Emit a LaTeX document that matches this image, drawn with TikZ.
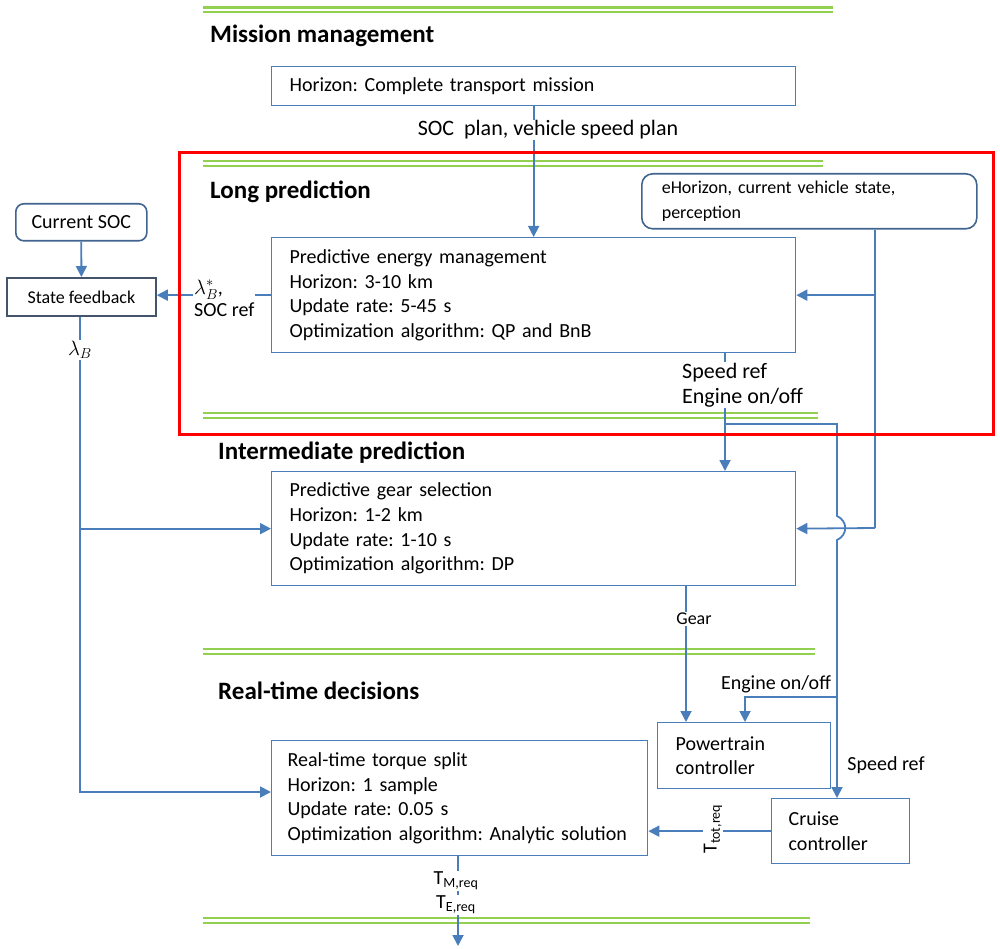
\documentclass[tikz,border=0pt]{standalone}
\usepackage{fontspec}
\setmainfont{Carlito}
\usetikzlibrary{arrows.meta}
\definecolor{boxblue}{HTML}{4A7EBB}
\definecolor{roundblue}{HTML}{41648F}
\definecolor{slateblue}{HTML}{44546A}
\definecolor{sepgreen}{HTML}{92D050}
\definecolor{framered}{HTML}{FF0000}
\newcommand{\bodyfont}{\fontsize{20}{24.7}\selectfont}
\newcommand{\headfont}{\fontsize{25}{28}\selectfont\bfseries}
\frenchspacing

\tikzset{
  layerbox/.style={draw=boxblue,line width=1.3pt,anchor=north west,
    align=left,inner xsep=18pt,inner ysep=2pt,font=\bodyfont},
  infobox/.style={draw=roundblue,line width=1.6pt,rounded corners=11pt,
    anchor=north west,align=left,inner xsep=20pt,inner ysep=2pt,font=\bodyfont},
  wire/.style={boxblue,line width=1.8pt},
  flow/.style={wire,-{Triangle[length=11pt,width=11pt]}},
  lbl/.style={fill=white,inner sep=1pt,font=\bodyfont},
  sepline/.style={sepgreen,line width=2.2pt,double=white,double distance=2.6pt},
  layertitle/.style={anchor=west,inner sep=0pt,font=\headfont}
}

\begin{document}
\begin{tikzpicture}[x=1pt,y=-1pt]
  \useasboundingbox (0,0) rectangle (1000,949);

  % layer separators
  \foreach \ys/\xe in {10/833,163.5/823,415.5/818,651.7/815,920.7/810}
    \draw[sepline] (203,\ys) -- (\xe,\ys);

  \node[layertitle] (missiontitle) at (210,36) {Mission management};
  \node[layertitle] (longtitle) at (210,192) {Long prediction};
  \node[layertitle] (midtitle) at (218,453) {Intermediate prediction};
  \node[layertitle] (rttitle) at (218,691) {Real-time decisions};

  % planning layers
  \node[layerbox,text width=488pt,minimum height=39pt] (mission) at (271,66)
    {Horizon: Complete transport mission};
  \node[layerbox,text width=488pt,minimum height=115pt] (pem) at (271,237)
    {Predictive energy management\\Horizon: 3-10 km\\Update rate: 5-45 s\\
     Optimization algorithm: QP and BnB};
  \node[layerbox,text width=488pt,minimum height=114pt] (gear) at (271,471)
    {Predictive gear selection\\Horizon: 1-2 km\\Update rate: 1-10 s\\
     Optimization algorithm: DP};
  \node[layerbox,inner xsep=16pt,text width=344pt,minimum height=115pt] (torque)
    at (271,740) {Real-time torque split\\Horizon: 1 sample\\Update rate: 0.05 s\\
     Optimization algorithm: Analytic\ solution};
  \node[layerbox,text width=137pt,minimum height=66pt] (powertrain) at (657,722)
    {Powertrain\\controller};
  \node[layerbox,inner xsep=17pt,text width=104pt,minimum height=65pt] (cruise)
    at (771,798) {Cruise\\controller};

  % inputs
  \node[infobox,text width=295pt,minimum height=55pt,
    font=\fontsize{18}{24.7}\selectfont] (ehorizon) at (641,173)
    {eHorizon, current vehicle state,\\perception};
  \node[infobox,rounded corners=8pt,align=center,inner xsep=2pt,
    minimum width=131pt,minimum height=37pt] (currentsoc) at (15,203)
    {Current SOC};
  \node[draw=slateblue,line width=1.8pt,anchor=north west,font=\fontsize{18}{20}\selectfont,
    minimum width=149pt,minimum height=38pt] (feedback) at (6,277)
    {State feedback};

  % connectors
  \draw[flow] (mission) -- (pem);
  \node[lbl,font=\fontsize{22}{25}\selectfont] (socplan) at (548,130)
    {SOC\ \ plan, vehicle speed plan};

  \coordinate (etap) at (875,528);
  \draw[wire] (ehorizon.south -| etap) -- (etap);
  \draw[flow] (pem.east -| etap) -- (pem.east);
  \draw[flow] (etap) -- (gear.east);

  \draw[flow] (currentsoc) -- (feedback);
  \draw[flow] (pem.west) -- (feedback.east |- pem.west);
  \node[lbl,anchor=west,align=left,font=\fontsize{20}{22}\selectfont] (lamstar)
    at (193,298) {$\lambda_B^*$,\\SOC ref};

  \coordinate (lamturn) at (80,792);
  \draw[flow] (feedback.south -| lamturn) -- (lamturn) -- (torque.west |- lamturn);
  \draw[flow] (lamturn |- gear.west) -- (gear.west);
  \node[lbl] (lamb) at (80,350) {$\lambda_B$};

  \coordinate (sr) at (725,424);
  \coordinate (srdown) at (837,424);
  \draw[flow] (pem.south -| sr) -- (gear.north -| sr);
  \node[lbl,anchor=west,align=left,font=\fontsize{22}{25}\selectfont] (pemout)
    at (681,385) {Speed ref\\Engine on/off};
  \draw[flow] (sr) -- (srdown) -- (837,516)
    .. controls (848,521) and (848,535) .. (837,540) -- (cruise.north -| srdown);
  \coordinate (engtap) at (837,697);
  \coordinate (engin) at (745,697);
  \draw[flow] (engtap) -- (engin) -- (powertrain.north -| engin);
  \node[lbl,fill=none] (englbl) at (776,684) {Engine on/off};
  \node[lbl,fill=none] (speedlbl) at (886,765) {Speed ref};

  \coordinate (gearout) at (686,600);
  \draw[flow] (gear.south -| gearout) -- (powertrain.north -| gearout);
  \node[lbl,font=\fontsize{18}{20}\selectfont] (gearlbl) at (694,619) {Gear};

  \draw[flow] (cruise.west) -- (torque.east |- cruise.west);
  \node[lbl,rotate=90] (ttot) at (713,829) {T\textsubscript{tot,req}};

  \coordinate (tout) at (458,946);
  \draw[flow] (torque.south -| tout) -- (tout);
  \node[lbl] (tmreq) at (456,881) {T\textsubscript{M,req}};
  \node[lbl] (tereq) at (456,905) {T\textsubscript{E,req}};

  % long prediction frame
  \draw[framered,line width=3pt] (179,152.5) rectangle (993,434);
\end{tikzpicture}
\end{document}
